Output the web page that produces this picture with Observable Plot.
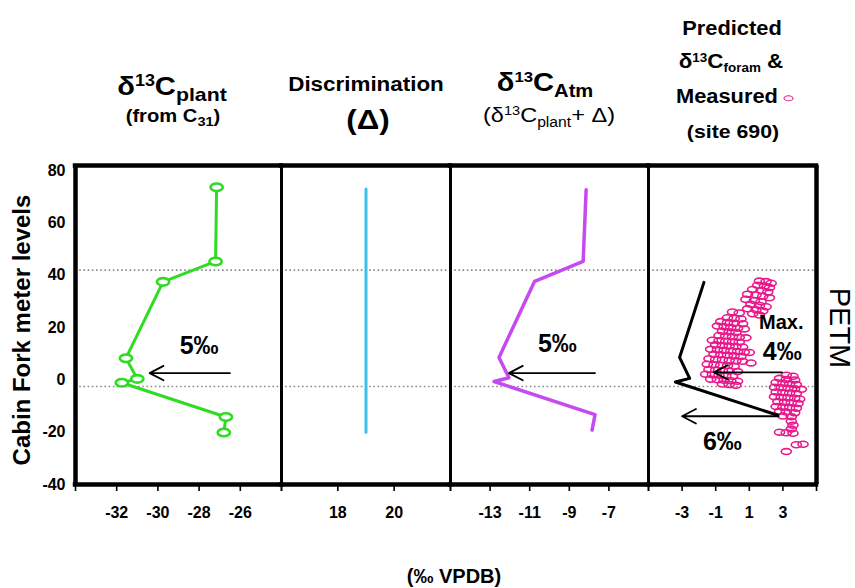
<!DOCTYPE html>
<html><head><meta charset="utf-8">
<script src="https://cdn.jsdelivr.net/npm/d3@7"></script>
<script src="https://cdn.jsdelivr.net/npm/@observablehq/plot@0.6"></script>
<style>
body{margin:0;background:#fff;font-family:"Liberation Sans",Arial,sans-serif;}
#wrap{position:relative;width:855px;height:588px;overflow:hidden;background:#fff;}
.t{position:absolute;white-space:nowrap;line-height:1;transform:translate(-50%,-50%) scaleX(1.12);font-weight:bold;color:#000;}
.p{position:absolute;top:150px;}
</style></head>
<body><div id="wrap"></div>
<script>
// ---- data ----
const yTicks = [-40, -20, 0, 20, 40, 60, 80];
const boundaryLevels = [42, -2.5];

const plantX = [-27.15, -27.2, -29.75, -31.55, -31.0, -31.75, -26.7, -26.8];
const plantY = [73.7, 45.3, 37.5, 8.3, 0.4, -1.1, -14.2, -20.1];
const plantTicks = [-32, -30, -28, -26];

const discrimX = [19, 19];
const discrimY = [73, -20];
const discrimTicks = [18, 20];

const atmX = [-8.15, -8.3, -10.75, -12.55, -12.05, -12.8, -7.7, -7.85];
const atmY = [72.7, 45.3, 37.7, 8.6, 0.8, -0.6, -13.3, -19.2];
const atmTicks = [-13, -11, -9, -7];

const foramPredX = [-1.7, -3.15, -2.55, -3.4, 2.7];
const foramPredY = [37.3, 8.6, 0.6, -0.8, -13.5];
const foramTicks = [-3, -1, 1, 3];

const measured = [
 [1.6,37.8],[2.0,37.6],[2.3,37.0],[1.5,36.2],[1.9,35.9],[2.2,35.3],[1.2,34.6],[1.7,34.2],[2.1,33.6],[0.9,32.8],[1.4,32.5],[1.8,32.0],[2.2,31.4],[0.8,30.8],[1.3,30.4],[1.7,29.9],[1.1,28.9],[1.6,28.5],[2.0,28.0],[0.9,27.2],[1.4,26.8],[1.8,26.4],[1.2,25.3],[1.6,24.8],
 [0.0,26.0],[0.4,25.6],[-0.3,23.8],[0.1,23.5],[0.5,23.3],[-0.7,22.3],[-0.3,22.0],[0.1,21.7],[0.6,21.5],[-0.9,20.6],[-0.5,20.3],[-0.1,20.0],[0.3,19.8],[0.7,19.5],[-0.6,18.6],[-0.2,18.4],[0.2,18.1],[-0.8,17.0],[-0.4,16.8],[0.0,16.5],[0.4,16.3],[0.8,16.1],
 [-1.2,15.2],[-0.8,15.0],[-0.4,14.8],[0.0,14.6],[0.4,14.4],[-1.0,13.4],[-0.6,13.2],[-0.2,13.0],[0.2,12.8],[0.6,12.6],[-1.3,11.7],[-0.9,11.5],[-0.5,11.3],[-0.1,11.1],[0.3,10.9],[0.7,10.7],[1.0,10.5],[-1.1,9.8],[-0.7,9.6],[-0.3,9.4],[0.1,9.2],[0.5,9.0],[-1.4,8.1],[-1.0,7.9],[-0.6,7.7],[-0.2,7.5],[0.2,7.3],[0.6,7.1],[1.1,6.5],
 [-1.5,6.0],[-1.1,5.8],[-0.7,5.6],[-0.3,5.4],[0.1,5.2],[-1.4,4.0],[-1.0,3.8],[-0.6,3.6],[-0.2,3.4],[0.3,3.2],[-1.6,2.2],[-1.2,2.0],[-0.8,1.8],[-0.4,1.6],[0.0,1.4],[-1.3,0.3],[-0.9,0.1],[-0.5,-0.1],[-0.1,-0.3],[0.3,-0.5],[-0.6,-1.6],[-0.2,-1.8],[0.2,-2.0],
 [3.2,1.8],[3.6,1.4],[2.8,0.6],[3.2,0.2],[3.7,0.0],[2.6,-1.0],[3.0,-1.3],[3.4,-1.5],[3.8,-1.8],[2.5,-2.8],[2.9,-3.0],[3.3,-3.2],[3.7,-3.4],[4.1,-3.6],[2.6,-4.6],[3.0,-4.8],[3.4,-5.0],[3.8,-5.2],[2.5,-6.4],[2.9,-6.6],[3.3,-6.8],[3.7,-7.0],[4.0,-7.3],[2.7,-8.3],[3.1,-8.5],[3.5,-8.7],[3.9,-9.0],[2.6,-10.2],[3.0,-10.4],[3.4,-10.6],[3.8,-10.8],[2.8,-12.0],[3.2,-12.3],[3.7,-12.6],[3.0,-13.8],[3.5,-14.1],[3.5,-15.8],[3.6,-17.3],[3.5,-18.8],[2.8,-20.0],[3.2,-20.2],[3.6,-20.4],[3.8,-24.8],[4.2,-24.6],[3.2,-27.4]
];

const plantArrows = [{x1: -26.5, x2: -30.4, y: 2.6}];
const atmArrows = [{x1: -7.7, x2: -12.05, y: 2.6}];
const foramArrows = [{x1: 2.95, x2: -1.1, y: 2.9}, {x1: 2.75, x2: -3.0, y: -13.9}];
const plantLabels = [{x: -28.0, y: 13, text: "5‰"}];
const atmLabels = [{x: -9.6, y: 13.7, text: "5‰"}];
const foramLabels = [{x: 2.9, y: 21.9, text: "Max.", size: 20}, {x: 2.96, y: 10.5, text: "4‰"}, {x: -0.6, y: -23.6, text: "6‰"}];

// ---- helpers ----
const ellipse = (sx, sy) => ({
  draw(ctx, size) {
    const r = Math.sqrt(size / Math.PI), rx = r * sx, ry = r * sy, k = 0.5523;
    ctx.moveTo(rx, 0);
    ctx.bezierCurveTo(rx, ry * k, rx * k, ry, 0, ry);
    ctx.bezierCurveTo(-rx * k, ry, -rx, ry * k, -rx, 0);
    ctx.bezierCurveTo(-rx, -ry * k, -rx * k, -ry, 0, -ry);
    ctx.bezierCurveTo(rx * k, -ry, rx, -ry * k, rx, 0);
    ctx.closePath();
  }
});
const yDomain = [-40, 82];
const font = "'Liberation Sans', Arial, sans-serif";

function panel({left, width, marginLeft = 0, xDomain, ticks, marks, first = false, last = false}) {
  const xd = xDomain;
  const all = [
    Plot.ruleY(boundaryLevels, {stroke: "#8a8a8a", strokeWidth: 1.6, strokeDasharray: "1.6,2.6"}),
    ...marks,
    Plot.frame({stroke: "#000", strokeWidth: 2.8}),
    Plot.ruleY([yDomain[0], yDomain[1]], {stroke: "#000", strokeWidth: 4.5, strokeLinecap: "square"}),
    Plot.axisX({ticks, tickSize: 7, tickPadding: 15, fontSize: 16, fontWeight: "bold", tickFormat: d => String(d).replace("−", "-"), strokeWidth: 1.6}),
    Plot.axisX({ticks: xd, tickSize: 7, tickFormat: () => "", strokeWidth: 1.6})
  ];
  if (first) {
    all.push(Plot.ruleX([xd[0]], {stroke: "#000", strokeWidth: 4.5}));
    all.push(Plot.axisY({ticks: yTicks, tickSize: 0, tickPadding: 10, fontSize: 16, fontWeight: "bold", tickFormat: d => String(d)}));
  }
  if (last) all.push(Plot.ruleX([xd[1]], {stroke: "#000", strokeWidth: 4.5}));
  const svg = Plot.plot({
    width: width + marginLeft, height: 384,
    marginLeft, marginRight: 0, marginTop: 15, marginBottom: 50,
    x: {domain: xd, label: null},
    y: {domain: yDomain, label: null, axis: null},
    style: {fontFamily: font, overflow: "visible", background: "transparent", color: "#000"},
    marks: all
  });
  const d = document.createElement("div");
  d.className = "p";
  d.style.left = left + "px";
  d.appendChild(svg);
  document.getElementById("wrap").appendChild(d);
}

const arrowMarks = (data) => Plot.arrow(data, {x1: "x1", y1: "y", x2: "x2", y2: "y", stroke: "#000", strokeWidth: 1.8, headLength: 13, headAngle: 55});
const labelMarks = (data, size = 25) => Plot.text(data, {x: "x", y: "y", text: "text", fontSize: d => d.size ?? size, fontWeight: "bold", fill: "#000"});

// panel 1
panel({left: 0, width: 206, marginLeft: 75, xDomain: [-34, -24], ticks: plantTicks, first: true, marks: [
  Plot.line(plantX, {x: d => d, y: (d, i) => plantY[i], stroke: "#2fdc22", strokeWidth: 3}),
  Plot.dot(plantX, {x: d => d, y: (d, i) => plantY[i], r: 4.4, symbol: ellipse(1.4, 0.85), stroke: "#2fdc22", strokeWidth: 2.6, fill: "#fff"}),
  arrowMarks(plantArrows),
  labelMarks(plantLabels)
]});
// panel 2
panel({left: 281, width: 169, xDomain: [16, 22], ticks: discrimTicks, marks: [
  Plot.line(discrimX, {x: d => d, y: (d, i) => discrimY[i], stroke: "#3cc0ea", strokeWidth: 3})
]});
// panel 3
panel({left: 450, width: 198, xDomain: [-15, -5], ticks: atmTicks, marks: [
  Plot.line(atmX, {x: d => d, y: (d, i) => atmY[i], stroke: "#c64af2", strokeWidth: 3.5}),
  arrowMarks(atmArrows),
  labelMarks(atmLabels)
]});
// panel 4
panel({left: 648, width: 168, xDomain: [-5, 5], ticks: foramTicks, last: true, marks: [
  Plot.dot(measured, {x: d => d[0], y: d => d[1], r: 3.6, symbol: ellipse(1.4, 0.82), stroke: "#e8178a", strokeWidth: 1.6, fill: "none"}),
  Plot.line(foramPredX, {x: d => d, y: (d, i) => foramPredY[i], stroke: "#000", strokeWidth: 3}),
  arrowMarks(foramArrows),
  labelMarks(foramLabels)
]});

// ---- titles (HTML text around the plots) ----
function txt(html, cx, cy, size, extra = "") {
  const d = document.createElement("div");
  d.className = "t";
  d.style.left = cx + "px"; d.style.top = cy + "px"; d.style.fontSize = size + "px";
  if (extra) d.style.cssText += extra;
  d.innerHTML = html;
  document.getElementById("wrap").appendChild(d);
}
const sup = (s, px, up) => `<span style="font-size:${px}px;position:relative;top:-${up}px">${s}</span>`;
const sub = (s, px, dn) => `<span style="font-size:${px}px;position:relative;top:${dn}px">${s}</span>`;

txt(`δ${sup("13", 16, 9)}C${sub("plant", 19, 6)}`, 172, 86, 26);
txt(`(from C${sub("31", 13, 4)})`, 173, 116, 18);
txt(`Discrimination`, 366, 84, 20);
txt(`(Δ)`, 368, 120, 28);
txt(`δ${sup("13", 15, 9)}C${sub("Atm", 18, 6)}`, 545, 82, 26);
txt(`(δ${sup("13", 13, 7)}C${sub("plant", 14, 5)}+ Δ)`, 549, 114, 21, "font-weight:normal;");
txt(`Predicted`, 732, 29, 19.5);
txt(`δ${sup("13", 12, 6)}C${sub("foram", 12, 4)} &amp;`, 731, 61, 20);
txt(`Measured <span style="display:inline-block;width:7px;height:4px;border:1.4px solid #e8178a;border-radius:50%;vertical-align:middle"></span>`, 735, 97, 19.5);
txt(`(site 690)`, 733, 131, 19);
txt(`(‰ VPDB)`, 454, 576, 20, "transform:translate(-50%,-50%);");
txt(`Cabin Fork meter levels`, 22, 330, 24, "transform:translate(-50%,-50%) rotate(-90deg);");
txt(`PETM`, 839, 328, 29, "font-weight:normal;transform:translate(-50%,-50%) rotate(90deg);");
</script>
</body></html>
